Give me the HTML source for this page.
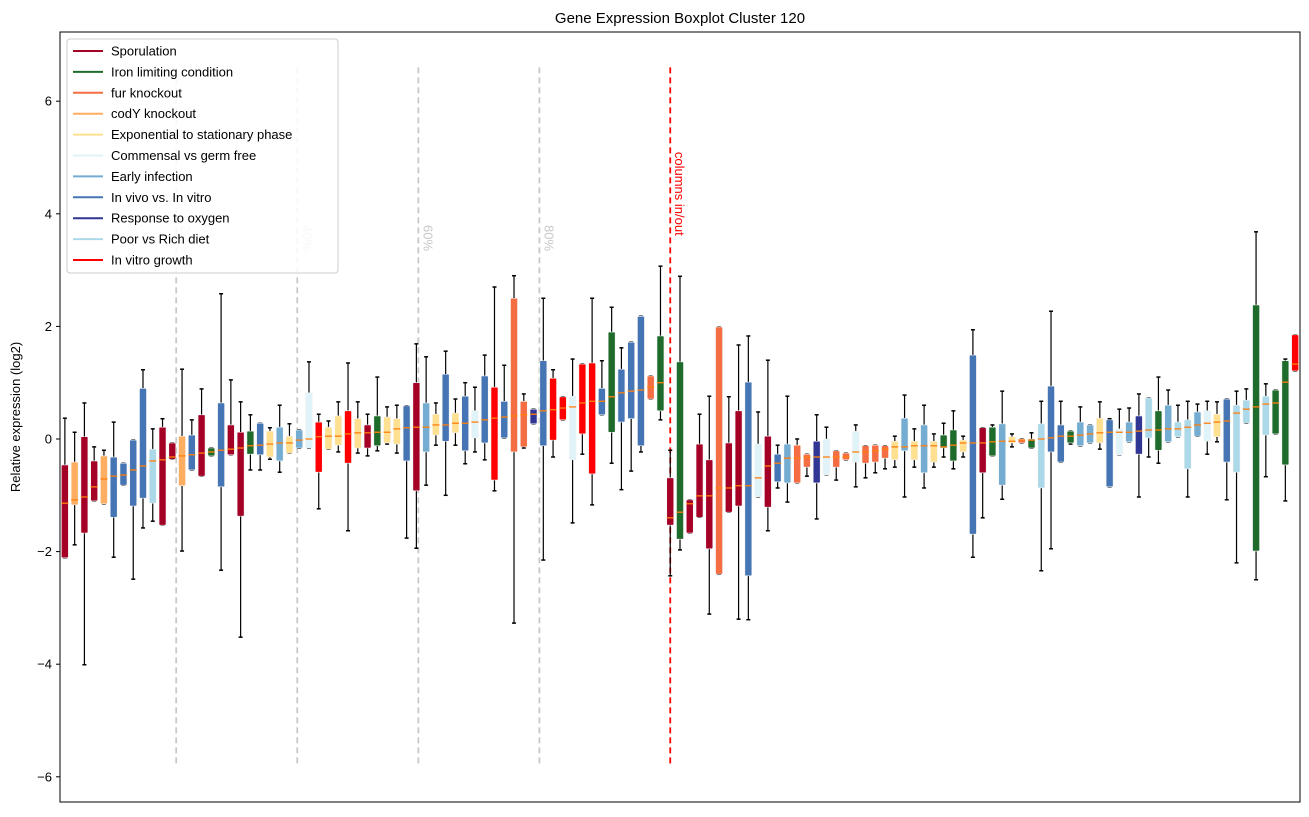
<!DOCTYPE html>
<html><head><meta charset="utf-8"><style>
body{margin:0;background:#fff;font-family:"Liberation Sans","DejaVu Sans",sans-serif;}
svg text{font-family:"Liberation Sans","DejaVu Sans",sans-serif;}
</style></head><body>
<svg id="chart" width="1309" height="812" xmlns="http://www.w3.org/2000/svg">
<rect x="0" y="0" width="1309" height="812" fill="#fff"/>
<text x="680" y="23" font-size="15" text-anchor="middle">Gene Expression Boxplot Cluster 120</text>
<text x="0" y="0" font-size="13" text-anchor="middle" transform="translate(20,417) rotate(-90)">Relative expression (log2)</text>
<g id="grid"></g>
<g id="boxes"></g>
<g id="axes"></g>
<g id="legend"></g>
</svg>
<script>
const categories = ["Sporulation","Iron limiting condition","fur knockout","codY knockout","Exponential to stationary phase","Commensal vs germ free","Early infection","In vivo vs. In vitro","Response to oxygen","Poor vs Rich diet","In vitro growth"];
const colors = ["#a50026","#1f6b2b","#f46d43","#fdae61","#fee090","#e0f3f8","#74add1","#4575b4","#313695","#abd9e9","#ff0000"];
const boxCategory = [0,3,0,0,3,7,7,7,7,9,0,0,3,7,0,1,7,0,0,1,7,4,6,4,6,5,10,4,4,10,4,0,1,4,4,7,0,6,4,7,4,7,5,7,10,7,2,2,8,7,10,10,5,10,10,7,1,7,7,7,2,1,0,1,0,0,0,2,0,0,7,5,0,7,6,2,2,8,5,2,2,5,2,2,2,4,6,4,6,4,1,1,4,7,0,1,6,4,2,1,9,7,7,1,6,6,4,7,5,6,8,9,1,6,9,9,6,5,4,7,9,9,1,9,1,1,10];
const whiskerLow = [-2.11,-1.88,-4.01,-1.1,-1.15,-2.1,-0.82,-2.49,-1.58,-1.46,-1.53,-0.36,-1.99,-0.55,-0.66,-0.3,-2.33,-0.28,-3.52,-0.55,-0.55,-0.36,-0.59,-0.25,-0.16,-0.16,-1.24,-0.18,-0.23,-1.63,-0.25,-0.3,-0.21,-0.09,-0.25,-1.76,-1.94,-0.82,-0.11,-1.0,-0.11,-0.44,-0.23,-0.37,-0.92,0.02,-3.27,-0.16,0.27,-2.15,-0.32,0.34,-1.49,-0.27,-1.17,0.43,-0.43,-0.9,-0.57,-0.23,0.71,0.34,-2.43,-1.97,-1.67,-1.39,-3.11,-2.4,-1.3,-3.2,-3.21,-1.03,-1.63,-0.87,-1.12,-0.78,-0.66,-1.42,-0.64,-0.73,-0.37,-0.85,-0.69,-0.6,-0.53,-0.5,-1.03,-0.5,-0.87,-0.5,-0.32,-0.53,-0.32,-2.1,-1.4,-0.3,-1.07,-0.14,-0.07,-0.16,-2.34,-1.95,-0.41,-0.09,-0.12,-0.07,-0.18,-0.85,-0.28,-0.05,-1.03,-0.32,-0.43,-0.05,0.04,-1.03,0.05,-0.27,-0.05,-1.08,-2.2,0.28,-2.5,-0.67,0.09,-1.1,1.21];
const q1 = [-2.11,-1.17,-1.67,-1.1,-1.15,-1.39,-0.82,-1.19,-1.05,-1.14,-1.53,-0.36,-0.83,-0.55,-0.66,-0.3,-0.85,-0.28,-1.37,-0.27,-0.28,-0.32,-0.39,-0.25,-0.16,-0.16,-0.59,-0.18,-0.11,-0.43,-0.16,-0.16,-0.12,-0.07,-0.09,-0.39,-0.92,-0.23,0.07,-0.04,0.11,-0.21,0.02,-0.07,-0.73,0.02,-0.23,-0.14,0.27,-0.12,-0.02,0.34,-0.37,0.09,-0.62,0.43,0.12,0.3,0.36,-0.12,0.71,0.5,-1.53,-1.78,-1.67,-1.39,-1.95,-2.4,-1.3,-1.19,-2.43,-1.03,-1.21,-0.76,-0.78,-0.78,-0.5,-0.78,-0.64,-0.5,-0.37,-0.41,-0.43,-0.41,-0.34,-0.37,-0.21,-0.37,-0.6,-0.41,-0.16,-0.39,-0.23,-1.69,-0.6,-0.3,-0.82,-0.07,-0.07,-0.16,-0.87,-0.23,-0.41,-0.07,-0.12,-0.07,-0.07,-0.85,-0.28,-0.05,-0.27,0.02,-0.2,-0.05,0.04,-0.53,0.05,-0.04,0.04,-0.41,-0.59,0.28,-1.99,0.07,0.09,-0.46,1.21];
const medians = [-1.14,-1.08,-1.03,-0.85,-0.71,-0.66,-0.64,-0.55,-0.48,-0.39,-0.37,-0.32,-0.3,-0.28,-0.25,-0.23,-0.2,-0.18,-0.16,-0.12,-0.11,-0.09,-0.07,-0.07,-0.02,0,0.04,0.05,0.05,0.09,0.11,0.11,0.12,0.12,0.18,0.2,0.21,0.21,0.25,0.25,0.28,0.28,0.3,0.34,0.37,0.39,0.41,0.43,0.44,0.5,0.52,0.55,0.57,0.64,0.67,0.67,0.75,0.82,0.85,0.87,0.92,1.0,-1.4,-1.3,-1.15,-1.01,-1.01,-0.87,-0.87,-0.83,-0.83,-0.69,-0.48,-0.43,-0.34,-0.34,-0.32,-0.32,-0.32,-0.32,-0.32,-0.23,-0.23,-0.21,-0.18,-0.14,-0.14,-0.12,-0.12,-0.12,-0.14,-0.11,-0.07,-0.07,-0.07,-0.05,-0.04,-0.04,-0.02,-0.02,0,0.02,0.05,0.05,0.07,0.09,0.11,0.12,0.12,0.12,0.14,0.16,0.16,0.18,0.18,0.21,0.25,0.28,0.3,0.32,0.46,0.53,0.57,0.62,0.64,1.01,1.33];
const q3 = [-0.46,-0.41,0.04,-0.39,-0.3,-0.32,-0.43,-0.02,0.9,-0.18,0.21,-0.07,0.05,0.07,0.43,-0.16,0.64,0.25,0.12,0.14,0.28,0.14,0.21,0.05,0.16,0.82,0.3,0.21,0.41,0.5,0.36,0.25,0.41,0.39,0.36,0.59,1.0,0.64,0.44,1.15,0.46,0.76,0.5,1.12,0.92,0.67,2.5,0.67,0.53,1.39,1.08,0.75,0.76,1.33,1.35,0.9,1.9,1.24,1.72,2.18,1.12,1.83,-0.69,1.37,-1.08,-0.09,-0.37,1.99,-0.07,0.5,1.01,-0.09,0.05,-0.27,-0.09,-0.11,-0.27,-0.04,0,-0.21,-0.25,0.14,-0.12,-0.11,-0.12,-0.04,0.37,-0.04,0.25,-0.04,0.07,0.16,-0.02,1.49,0.2,0.21,0.27,0.04,0,0,0.27,0.94,0.25,0.14,0.3,0.25,0.37,0.34,0.18,0.3,0.41,0.73,0.5,0.6,0.3,0.34,0.48,0.5,0.44,0.71,0.6,0.69,2.38,0.76,0.87,1.39,1.85];
const whiskerHigh = [0.37,0.12,0.64,-0.14,-0.2,0.3,-0.43,-0.02,1.23,0.18,0.36,-0.07,1.24,0.34,0.89,-0.16,2.58,1.05,0.66,0.43,0.28,0.2,0.6,0.27,0.16,1.37,0.44,0.32,0.66,1.35,0.66,0.44,1.1,0.57,0.6,0.59,1.69,1.46,0.64,1.56,0.71,1.0,0.92,1.49,2.7,1.31,2.9,0.8,0.53,2.5,1.23,0.75,1.42,1.33,2.5,1.39,2.34,1.62,1.72,2.18,1.12,3.07,-0.2,2.89,-1.08,0.44,0.76,1.99,0.75,1.67,1.83,0.48,1.4,-0.11,0.76,0,-0.27,0.43,0.21,-0.21,-0.25,0.25,-0.12,-0.11,-0.12,0.05,0.78,0.18,0.6,0.09,0.28,0.5,0.05,1.94,0.2,0.25,0.85,0.09,0,0.11,0.67,2.27,0.67,0.14,0.57,0.25,0.66,0.36,0.53,0.55,0.8,0.73,1.1,0.87,0.6,0.67,0.62,0.67,0.66,0.71,0.85,0.89,3.68,0.98,0.87,1.42,1.85];
const yTicks = [6,4,2,0,-2,-4,-6];
const pctLines = [0.2,0.4,0.6,0.8];
const pctLabels = ["20%","40%","60%","80%"];
const splitPos = 63;

const NS="http://www.w3.org/2000/svg";
const L=60,R=1300,T=32,B=802, n=whiskerLow.length;
const xScale = p => L + (p-0.5)*(R-L)/n;
const yScale = v => 439 - v*56.3;
function mk(tag,attrs,parent){const e=document.createElementNS(NS,tag);for(const k in attrs)e.setAttribute(k,attrs[k]);parent.appendChild(e);return e;}
const grid=document.getElementById('grid'), boxes=document.getElementById('boxes'), axes=document.getElementById('axes'), legend=document.getElementById('legend');

pctLines.forEach((p,i)=>{
  const x=xScale(p*(splitPos-1));
  const ln=mk('line',{x1:x,x2:x,y1:yScale(6.6),y2:yScale(-5.8),stroke:'#c8c8c8','stroke-width':1.8,'stroke-dasharray':'6,4'},grid);
  
  
  const t=mk('text',{'font-size':13,fill:'#c8c8c8',transform:`translate(${x+5},${yScale(3.8)}) rotate(90)`},grid);
  t.textContent=pctLabels[i];
  
  
});
const sx=xScale(splitPos);
const sl=mk('line',{x1:sx,x2:sx,y1:yScale(6.6),y2:yScale(-5.8),stroke:'#ff0000','stroke-width':1.8,'stroke-dasharray':'6,4'},grid);


const st=mk('text',{'font-size':13,fill:'#ff0000',transform:`translate(${sx+5},${yScale(5.1)}) rotate(90)`},grid);
st.textContent='columns in/out';



for(let i=0;i<n;i++){
  const x=xScale(i+1), c=colors[boxCategory[i]], w=7;
  const g=mk('g',{},boxes);
  
  
  mk('line',{x1:x,x2:x,y1:yScale(whiskerHigh[i]),y2:yScale(whiskerLow[i]),stroke:'#000','stroke-width':1.2},g);
  mk('line',{x1:x-2,x2:x+2,y1:yScale(whiskerHigh[i]),y2:yScale(whiskerHigh[i]),stroke:'#000','stroke-width':1.5},g);
  mk('line',{x1:x-2,x2:x+2,y1:yScale(whiskerLow[i]),y2:yScale(whiskerLow[i]),stroke:'#000','stroke-width':1.5},g);
  const yt=yScale(q3[i]), yb=yScale(q1[i]);
  mk('rect',{x:x-w/2,y:yt,width:w,height:Math.max(1.5,yb-yt),fill:c,stroke:'#f4f4f4','stroke-width':0.6,rx:1},g);
  mk('line',{x1:x-w/2,x2:x+w/2,y1:yScale(medians[i]),y2:yScale(medians[i]),stroke:'#ff7f0e','stroke-width':1.3},g);
}

mk('rect',{x:L,y:T,width:R-L,height:B-T,fill:'none',stroke:'#000','stroke-width':1},axes);
yTicks.forEach(v=>{
  const y=yScale(v);
  mk('line',{x1:L-4,x2:L,y1:y,y2:y,stroke:'#000','stroke-width':1},axes);
  const t=mk('text',{x:L-8,y:y+4.5,'font-size':13,'text-anchor':'end'},axes);
  t.textContent=v<0?'\u2212'+Math.abs(v):String(v);
  
  
});

const lb=mk('rect',{x:67,y:39,width:271,height:234,fill:'#fff','fill-opacity':0.85,stroke:'#cccccc',rx:3},legend);


categories.forEach((name,i)=>{
  const y=51+i*20.9;
  const g=mk('g',{},legend);
  
  
  mk('line',{x1:73,x2:103,y1:y,y2:y,stroke:colors[i],'stroke-width':2},g);
  const t=mk('text',{x:111,y:y+4.5,'font-size':13},g);
  t.textContent=name;
});
</script>
</body></html>
